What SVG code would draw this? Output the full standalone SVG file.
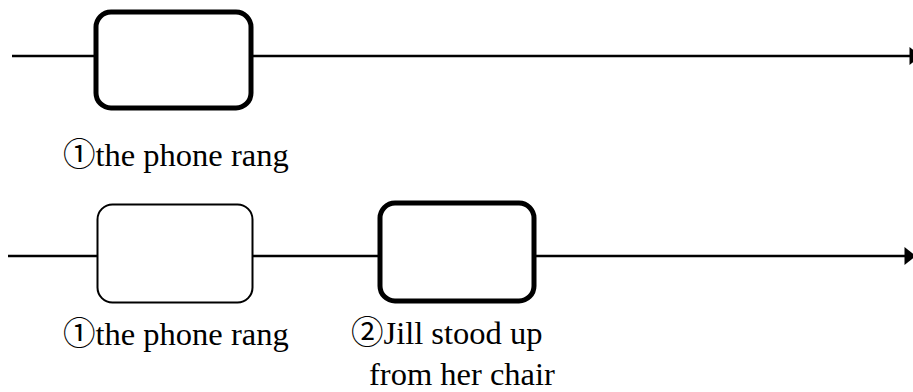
<svg xmlns="http://www.w3.org/2000/svg" width="913" height="392" viewBox="0 0 913 392">
  <style>
    .bg { fill: #ffffff; }
    .axis { stroke: #000000; stroke-width: 2.5; fill: none; }
    .box-bold { fill: #ffffff; stroke: #000000; stroke-width: 5; }
    .box-thin { fill: #ffffff; stroke: #000000; stroke-width: 2; }
    .label { font-family: "Liberation Serif", "Noto Sans CJK JP", serif; font-size: 32.5px; fill: #000000; }
  </style>
  <defs>
    <marker id="arrow" markerUnits="userSpaceOnUse" markerWidth="13" markerHeight="19" viewBox="0 0 13 19" refX="12" refY="9.5" orient="auto">
      <path d="M0.5,0.5 L12,9.5 L0.5,18.5 Z" fill="#000000"/>
    </marker>
  </defs>
  <rect class="bg" x="0" y="0" width="913" height="392"/>

  <!-- timelines -->
  <g id="connectors">
    <line class="axis" x1="12" y1="56" x2="921" y2="56" marker-end="url(#arrow)"/>
    <line class="axis" x1="8" y1="256" x2="916" y2="256" marker-end="url(#arrow)"/>
  </g>

  <!-- upper timeline: a single event -->
  <g id="event-1-top">
    <rect class="box-bold" x="96" y="12" width="155" height="96" rx="15" ry="15"/>
    <text class="label" x="63" y="166">①the phone rang</text>
  </g>

  <!-- lower timeline: first event, then second event -->
  <g id="event-1-bottom">
    <rect class="box-thin" x="97.5" y="204.5" width="155" height="98" rx="15" ry="15"/>
    <text class="label" x="63" y="345">①the phone rang</text>
  </g>

  <g id="event-2-bottom">
    <rect class="box-bold" x="380" y="203" width="154" height="98" rx="15" ry="15"/>
    <text class="label" x="351" y="344">②Jill stood up</text>
    <text class="label" x="369" y="385">from her chair</text>
  </g>
</svg>
